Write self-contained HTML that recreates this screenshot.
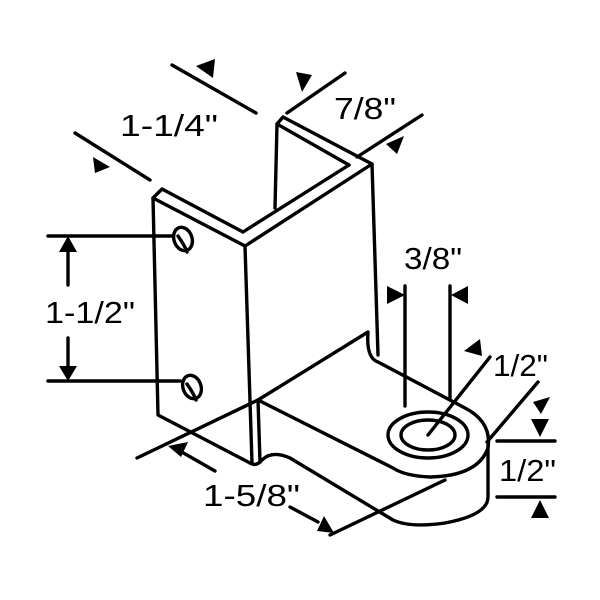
<!DOCTYPE html>
<html><head><style>
html,body{margin:0;padding:0;background:#fff;}
svg{display:block;}
text{font-family:"Liberation Sans",Arial,sans-serif;font-size:31px;fill:#000;}
</style></head><body>
<svg width="600" height="600" viewBox="0 0 600 600" xmlns="http://www.w3.org/2000/svg">
<g fill="none" stroke="#000" stroke-width="3.4" stroke-linejoin="round" stroke-linecap="round">
<path d="M243,232 L162,189 L153,198 L158,415 L250,463"/>
<line x1="153" y1="198" x2="245" y2="246"/>
<path d="M245,246 L252,463"/>
<path d="M245,246 L372,164 L378,355"/>
<path d="M243,232 L349,165"/>
<path d="M275,208 L277,124 L283,117 L372,164"/>
<path d="M277,124 L349,165"/>
<ellipse cx="183" cy="239" rx="9" ry="12" transform="rotate(-20 183 239)"/>
<path d="M178,236 Q185,246 187,252"/>
<ellipse cx="192" cy="387" rx="9" ry="12" transform="rotate(-20 192 387)"/>
<path d="M187,384 Q194,394 196,400"/>
<path d="M258,400 L368,332 Q366,358 378,362 L465,408 Q492,422 488,448 Q478,476 430,477 Q405,476 393,468 L258,400"/>
<line x1="258" y1="400" x2="260" y2="462"/>
<path d="M250,463 Q256,467 262,460 Q272,450 290,458 L393,520 Q410,528 445,523 Q488,515 488,497 L488,445"/>
<ellipse cx="428" cy="435" rx="40" ry="23"/>
<ellipse cx="428" cy="435" rx="27" ry="15"/>
<line x1="172" y1="65" x2="256" y2="113"/>
<line x1="75" y1="133" x2="150" y2="180"/>
<line x1="287" y1="113" x2="345" y2="73"/>
<line x1="357" y1="157" x2="422" y2="115"/>
<line x1="48" y1="236" x2="172" y2="236"/>
<line x1="48" y1="381" x2="180" y2="381"/>
<line x1="68" y1="250" x2="68" y2="285"/>
<line x1="68" y1="338" x2="68" y2="368"/>
<line x1="405" y1="286" x2="405" y2="406"/>
<line x1="450" y1="286" x2="450" y2="398"/>
<line x1="428" y1="435" x2="490" y2="357"/>
<line x1="487" y1="442" x2="538" y2="382"/>
<line x1="497" y1="441" x2="555" y2="441"/>
<line x1="497" y1="497" x2="555" y2="497"/>
<line x1="137" y1="458" x2="258" y2="400"/>
<line x1="330" y1="535" x2="445" y2="480"/>
<line x1="180" y1="451" x2="215" y2="471"/>
<line x1="290" y1="507" x2="318" y2="522"/>
</g>
<g fill="#000">
<polygon points="59,252 77,252 68,236"/>
<polygon points="59,366 77,366 68,381"/>
<polygon points="387,286 387,304 405,295"/>
<polygon points="468,286 468,304 451,295"/>
<polygon points="196,66 213,78 215,59"/>
<polygon points="93,157 110,167 95,173"/>
<polygon points="296,72 312,75 302,92"/>
<polygon points="386,144 404,136 397,154"/>
<polygon points="464,351 482,356 480,339"/>
<polygon points="533,402 550,397 541,414"/>
<polygon points="531,419 549,419 540,437"/>
<polygon points="531,518 549,518 540,500"/>
<polygon points="168,446 188,442 181,457"/>
<polygon points="334,533 317,531 324,516"/>
</g>
<text x="120" y="136" textLength="98" lengthAdjust="spacingAndGlyphs">1-1/4"</text>
<text x="334" y="119" textLength="62" lengthAdjust="spacingAndGlyphs">7/8"</text>
<text x="45" y="323" textLength="90" lengthAdjust="spacingAndGlyphs">1-1/2"</text>
<text x="404" y="269" textLength="58" lengthAdjust="spacingAndGlyphs">3/8"</text>
<text x="493" y="376" textLength="55" lengthAdjust="spacingAndGlyphs">1/2"</text>
<text x="499" y="481" textLength="57" lengthAdjust="spacingAndGlyphs">1/2"</text>
<text x="203" y="506" textLength="97" lengthAdjust="spacingAndGlyphs">1-5/8"</text>
</svg>
</body></html>
